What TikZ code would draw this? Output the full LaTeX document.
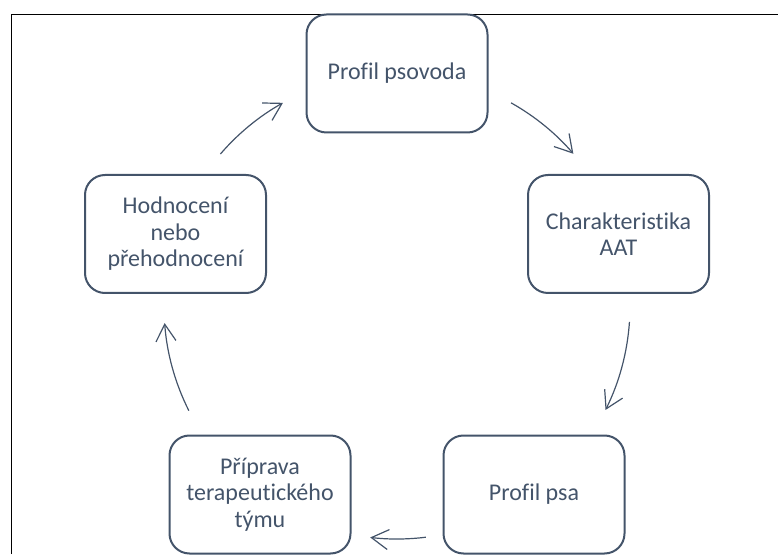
\documentclass[tikz,border=0pt]{standalone}
\usepackage{fontspec}
\setmainfont{Carlito}[Ligatures=NoCommon]
\usetikzlibrary{arrows.meta,calc}
\definecolor{tcol}{HTML}{44546A}
\begin{document}
\begin{tikzpicture}[x=1pt,y=1pt,
  stepbox/.style={draw=tcol, text=tcol, line width=2pt, rounded corners=20pt,
    minimum width=181pt, minimum height=118pt, align=center,
    font=\fontsize{24}{26.5}\selectfont},
  arr/.style={draw=tcol, line width=1.2pt, -{Straight Barb[length=17pt,width=20pt,line width=1.2pt]}}]
\useasboundingbox (0,0) rectangle (778,554);
\draw[line width=1.8pt] (11.5,0) -- (11.5,539.5) -- (778,539.5);
\coordinate (c) at (397,248);
\node[stepbox] (pp) at (397,480.5) {Profil psovoda};
\node[stepbox] (ch) at (618.5,320) {Charakteristika\\AAT};
\node[stepbox] (psa) at (534,59.5) {Profil psa};
\node[stepbox] (pri) at (260,59.5) {Příprava\\terapeutického\\týmu};
\node[stepbox] (hod) at (175.5,320) {Hodnocení\\nebo\\přehodnocení};
\coordinate (a1) at ($(c)+(139.3:233)$);
\coordinate (a2) at ($(c)+(60.7:233)$);
\coordinate (a3) at ($(c)+(-3.9:233)$);
\coordinate (a4) at ($(c)+(-82.9:233)$);
\coordinate (a5) at ($(c)+(206.7:233)$);
\draw[arr] (a1) arc[start angle=139.3, end angle=119.3, radius=233pt];
\draw[arr] (a2) arc[start angle=60.7, end angle=40.8, radius=233pt];
\draw[arr] (a3) arc[start angle=-3.9, end angle=-26.5, radius=233pt];
\draw[arr] (a4) arc[start angle=-82.9, end angle=-96.6, radius=233pt];
\draw[arr] (a5) arc[start angle=206.7, end angle=184.2, radius=233pt];
\end{tikzpicture}
\end{document}
